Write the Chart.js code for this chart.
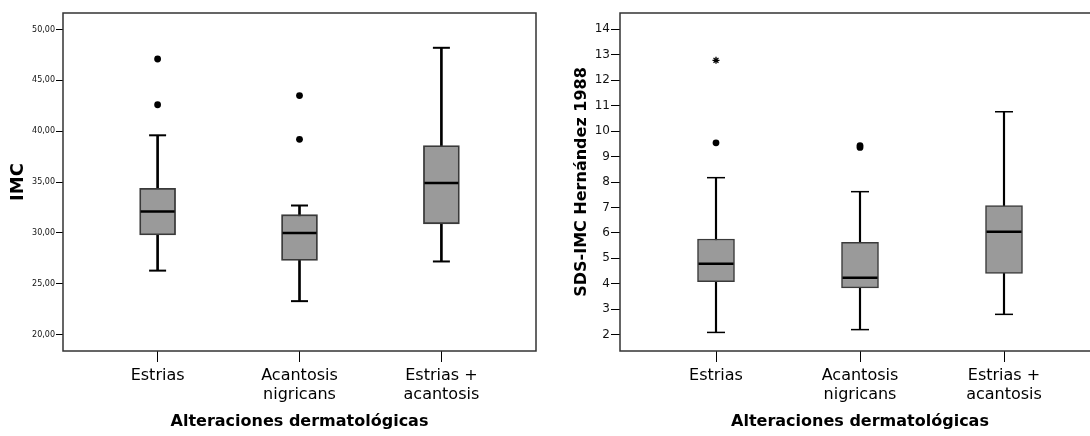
<!DOCTYPE html>
<html lang="es">
<head>
<meta charset="utf-8">
<title>Alteraciones dermatológicas</title>
<script src="https://cdn.jsdelivr.net/npm/chart.js@4.4.1/dist/chart.umd.min.js"></script>
<style>
  html, body { margin: 0; padding: 0; background: #fff; }
  body { width: 1090px; height: 436px; overflow: hidden; position: relative; }
  canvas { position: absolute; top: 0; }
  #imcChart { left: 0; }
  #sdsChart { left: 540px; }
</style>
</head>
<body>
<canvas id="imcChart" width="545" height="436"></canvas>
<canvas id="sdsChart" width="570" height="436"></canvas>
<script>
const FONT = "'DejaVu Sans', Verdana, Tahoma, sans-serif";

const CATEGORIES = [["Estrias"], ["Acantosis", "nigricans"], ["Estrias +", "acantosis"]];
const CATEGORY_POS = [1, 2, 3];
const X_TITLE = "Alteraciones dermatológicas";

// IMC (left panel)
const IMC_LOW = [26.3, 23.3, 27.2];
const IMC_Q1 = [29.8, 27.3, 30.9];
const IMC_MEDIAN = [32.1, 30.0, 34.9];
const IMC_Q3 = [34.4, 31.8, 38.6];
const IMC_HIGH = [39.6, 32.7, 48.2];
const IMC_OUTLIERS = [[47.1, 42.6], [43.5, 39.2], []];
const IMC_EXTREMES = [[], [], []];
const IMC_TICKS = [20, 25, 30, 35, 40, 45, 50];

// SDS-IMC (right panel)
const SDS_LOW = [2.09, 2.2, 2.8];
const SDS_Q1 = [4.08, 3.84, 4.41];
const SDS_MEDIAN = [4.79, 4.24, 6.05];
const SDS_Q3 = [5.76, 5.63, 7.07];
const SDS_HIGH = [8.17, 7.62, 10.76];
const SDS_OUTLIERS = [[9.54], [9.43, 9.36], []];
const SDS_EXTREMES = [[12.78], [], []];
const SDS_TICKS = [2, 3, 4, 5, 6, 7, 8, 9, 10, 11, 12, 13, 14];

const framePlugin = {
  id: "frame",
  beforeDatasetsDraw(chart, args, opts) {
    const { ctx, chartArea: a } = chart;
    ctx.save();
    ctx.strokeStyle = opts.color;
    ctx.lineWidth = opts.width;
    ctx.strokeRect(a.left, a.top, a.right - a.left, a.bottom - a.top);
    ctx.restore();
  },
};

const at = (arr) => arr.map((v, i) => ({ x: CATEGORY_POS[i], y: v }));
const spread = (lists) => lists.flatMap((vals, i) => vals.map((v) => ({ x: CATEGORY_POS[i], y: v })));

// scale labels must not push the plot area around
function noPadding(sc) {
  sc.paddingTop = 0;
  sc.paddingBottom = 0;
  sc.paddingLeft = 0;
  sc.paddingRight = 0;
}

function buildDatasets(s, look) {
  return [
    {
      type: "bar",
      data: s.low.map((v, i) => ({ x: CATEGORY_POS[i], y: [v, s.high[i]] })),
      barThickness: look.line,
      backgroundColor: "#000",
      borderWidth: 0,
      order: 6,
    },
    {
      type: "bar",
      data: s.q1.map((v, i) => ({ x: CATEGORY_POS[i], y: [v, s.q3[i]] })),
      barThickness: look.box,
      backgroundColor: "#9a9a9a",
      borderColor: "#3a3a3a",
      borderWidth: look.boxBorder,
      borderSkipped: false,
      order: 5,
    },
    {
      type: "scatter",
      data: at(s.median),
      pointStyle: "line",
      pointRadius: look.box / 2 - 1,
      pointBorderWidth: 2.5,
      pointBorderColor: "#000",
      order: 4,
    },
    {
      type: "scatter",
      data: at(s.low).concat(at(s.high)),
      pointStyle: "line",
      pointRadius: look.cap / 2,
      pointBorderWidth: look.line,
      pointBorderColor: "#000",
      order: 3,
    },
    {
      type: "scatter",
      data: spread(s.outliers),
      pointStyle: "circle",
      pointRadius: 3.4,
      pointBackgroundColor: "#000",
      pointBorderWidth: 0,
      order: 2,
    },
    {
      type: "scatter",
      data: spread(s.extremes),
      pointStyle: "star",
      pointRadius: 3.5,
      pointBorderColor: "#000",
      pointBorderWidth: 1.3,
      order: 1,
    },
  ];
}

function makeChart(id, cfg) {
  return new Chart(document.getElementById(id), {
    type: "bar",
    data: { datasets: buildDatasets(cfg.stats, cfg.look) },
    plugins: [framePlugin],
    options: {
      responsive: false,
      animation: false,
      events: [],
      datasets: { bar: { grouped: false } },
      layout: { autoPadding: false, padding: { left: 0, right: cfg.padRight, top: 13, bottom: 0 } },
      plugins: {
        legend: { display: false },
        tooltip: { enabled: false },
        frame: { color: "#333", width: 1.5 },
      },
      scales: {
        x: {
          type: "linear",
          min: 1 / 3,
          max: 11 / 3,
          offset: false,
          afterBuildTicks: (sc) => { sc.ticks = CATEGORY_POS.map((v) => ({ value: v })); },
          afterFit: (sc) => { sc.height = 85; noPadding(sc); },
          grid: { offset: false, drawOnChartArea: false, drawTicks: true, tickLength: 11, color: "#000", lineWidth: 1 },
          border: { display: false },
          ticks: {
            autoSkip: false,
            maxRotation: 0,
            padding: 5,
            color: "#000",
            font: { family: FONT, size: 16, lineHeight: 1.15 },
            callback: (v, i) => CATEGORIES[i],
          },
          title: {
            display: true,
            text: X_TITLE,
            color: "#000",
            font: { family: FONT, size: 16, weight: "bold" },
            padding: { top: 0, bottom: 4.4 },
          },
        },
        y: {
          type: "linear",
          min: cfg.min,
          max: cfg.max,
          afterBuildTicks: (sc) => { sc.ticks = cfg.ticks.map((v) => ({ value: v })); },
          afterFit: (sc) => { sc.width = cfg.yWidth; noPadding(sc); },
          grid: { drawOnChartArea: false, drawTicks: true, tickLength: cfg.yTick, color: "#000", lineWidth: 1 },
          border: { display: false },
          ticks: {
            padding: 1,
            color: "#111",
            font: { family: FONT, size: cfg.tickSize },
            callback: cfg.format,
          },
          title: {
            display: true,
            text: cfg.yTitle,
            color: "#000",
            font: { family: FONT, size: cfg.titleSize, weight: "bold" },
            padding: { top: cfg.titlePad, bottom: 0 },
          },
        },
      },
    },
  });
}

function init() {
  makeChart("imcChart", {
    stats: { low: IMC_LOW, q1: IMC_Q1, median: IMC_MEDIAN, q3: IMC_Q3, high: IMC_HIGH, outliers: IMC_OUTLIERS, extremes: IMC_EXTREMES },
    look: { box: 36, boxBorder: 1.8, line: 2, cap: 17 },
    min: 18.4,
    max: 51.62,
    ticks: IMC_TICKS,
    format: (v) => v.toFixed(2).replace(".", ","),
    yWidth: 63,
    yTick: 7,
    tickSize: 8,
    yTitle: "IMC",
    titleSize: 18,
    titlePad: 7.5,
    padRight: 9,
  });

  makeChart("sdsChart", {
    stats: { low: SDS_LOW, q1: SDS_Q1, median: SDS_MEDIAN, q3: SDS_Q3, high: SDS_HIGH, outliers: SDS_OUTLIERS, extremes: SDS_EXTREMES },
    look: { box: 37, boxBorder: 1.5, line: 1.5, cap: 18 },
    min: 1.36,
    max: 14.64,
    ticks: SDS_TICKS,
    format: (v) => String(v),
    yWidth: 80,
    yTick: 9,
    tickSize: 12,
    yTitle: "SDS-IMC Hernández 1988",
    titleSize: 16,
    titlePad: 32.1,
    padRight: 10,
  });
}

document.addEventListener("DOMContentLoaded", init);
</script>
</body>
</html>
